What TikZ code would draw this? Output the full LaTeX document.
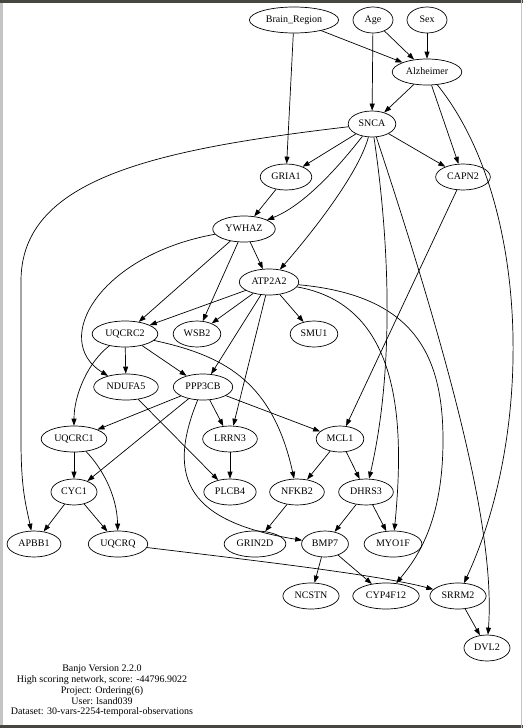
\documentclass[tikz,border=0pt]{standalone}
\usepackage{fontspec}
\setmainfont{Liberation Serif}
\usetikzlibrary{shapes.geometric, arrows.meta, positioning}
\definecolor{winbar}{RGB}{72,70,64}
\definecolor{winside}{RGB}{196,196,196}

\begin{document}
\begin{tikzpicture}[
    x=1pt, y=-1pt,
    gene/.style={ellipse, draw, line width=0.7pt, inner xsep=3.5pt, inner ysep=2pt, text height=7pt, text depth=2pt, minimum width=40pt, minimum height=26pt, font=\fontsize{10}{12}\selectfont},
    line/.style={draw, line width=0.7pt, -{Triangle[length=7pt, width=5pt]}}
]

\useasboundingbox (0,0) rectangle (523,728);
\fill [white] (0,0) rectangle (523,728);
\fill [winside] (0,0) rectangle (3,728);
\fill [winbar] (0,0) rectangle (523,3);
\fill [winbar] (0,725) rectangle (523,728);
\draw [winside] (521.5,0) -- (521.5,728);

\node [gene] (brain) at (294,20) {Brain\_Region};
\node [gene] (age) at (373,20) {Age};
\node [gene] (sex) at (427,20) {Sex};
\node [gene] (alz) at (427,72) {Alzheimer};
\node [gene] (snca) at (372,124) {SNCA};
\node [gene] (gria1) at (286,177) {GRIA1};
\node [gene] (capn2) at (463,177) {CAPN2};
\node [gene] (ywhaz) at (244,229) {YWHAZ};
\node [gene] (atp2a2) at (269,282) {ATP2A2};
\node [gene] (uqcrc2) at (125,334) {UQCRC2};
\node [gene] (wsb2) at (197,334) {WSB2};
\node [gene] (smu1) at (314,334) {SMU1};
\node [gene] (ndufa5) at (126,387) {NDUFA5};
\node [gene] (ppp3cb) at (203,387) {PPP3CB};
\node [gene] (uqcrc1) at (74,439) {UQCRC1};
\node [gene] (lrrn3) at (230,439) {LRRN3};
\node [gene] (mcl1) at (340,439) {MCL1};
\node [gene] (cyc1) at (74,492) {CYC1};
\node [gene] (plcb4) at (230,492) {PLCB4};
\node [gene] (nfkb2) at (297,492) {NFKB2};
\node [gene] (dhrs3) at (366,492) {DHRS3};
\node [gene] (apbb1) at (34,544) {APBB1};
\node [gene] (uqcrq) at (118,544) {UQCRQ};
\node [gene] (grin2d) at (255,544) {GRIN2D};
\node [gene] (bmp7) at (325,544) {BMP7};
\node [gene] (myo1f) at (393,544) {MYO1F};
\node [gene] (ncstn) at (311,596) {NCSTN};
\node [gene] (cyp4f12) at (386,596) {CYP4F12};
\node [gene] (srrm2) at (458,596) {SRRM2};
\node [gene] (dvl2) at (487,648) {DVL2};

\node [align=center, font=\fontsize{10}{10.8}\selectfont] (info) at (102,691) {Banjo Version 2.2.0\\High scoring network, score: -44796.9022\\Project: Ordering(6)\\User: lsand039\\Dataset: 30-vars-2254-temporal-observations};

\path [line] (brain) -- (gria1);
\path [line] (brain) -- (alz);
\path [line] (age) -- (alz);
\path [line] (age) -- (snca);
\path [line] (sex) -- (alz);
\path [line] (alz) -- (snca);
\path [line] (alz) -- (capn2);
\path [line] (alz) .. controls (530,200) and (535,430) .. (srrm2);

\path [line] (snca) -- (gria1);
\path [line] (snca) -- (capn2);
\path [line] (snca) .. controls (340,165) and (305,205) .. (ywhaz);
\path [line] (snca) .. controls (358,175) and (310,235) .. (atp2a2);
\path [line] (snca) .. controls (392,260) and (392,380) .. (dhrs3);
\path [line] (snca) .. controls (460,390) and (495,540) .. (dvl2);
\path [line] (snca) .. controls (150,150) and (22,180) .. (21,280) -- (21,440) .. controls (21,490) and (26,505) .. (apbb1);

\path [line] (gria1) -- (ywhaz);
\path [line] (capn2) -- (mcl1);

\path [line] (ywhaz) -- (atp2a2);
\path [line] (ywhaz) -- (uqcrc2);
\path [line] (ywhaz) -- (wsb2);
\path [line] (ywhaz) .. controls (100,255) and (50,340) .. (ndufa5);

\path [line] (atp2a2) -- (uqcrc2);
\path [line] (atp2a2) -- (wsb2);
\path [line] (atp2a2) -- (smu1);
\path [line] (atp2a2) -- (ppp3cb);
\path [line] (atp2a2) -- (lrrn3);
\path [line] (atp2a2) .. controls (400,305) and (405,420) .. (myo1f);
\path [line] (atp2a2) .. controls (410,295) and (443,350) .. (443,440) .. controls (443,525) and (415,560) .. (cyp4f12);

\path [line] (uqcrc2) -- (ndufa5);
\path [line] (uqcrc2) -- (ppp3cb);
\path [line] (uqcrc2) .. controls (88,362) and (74,395) .. (uqcrc1);
\path [line] (uqcrc2) .. controls (220,355) and (272,378) .. (nfkb2);

\path [line] (ndufa5) -- (plcb4);
\path [line] (ppp3cb) -- (uqcrc1);
\path [line] (ppp3cb) -- (cyc1);
\path [line] (ppp3cb) -- (lrrn3);
\path [line] (ppp3cb) -- (mcl1);
\path [line] (ppp3cb) .. controls (165,480) and (190,522) .. (bmp7);

\path [line] (lrrn3) -- (plcb4);
\path [line] (mcl1) -- (nfkb2);
\path [line] (mcl1) -- (dhrs3);
\path [line] (uqcrc1) -- (cyc1);
\path [line] (uqcrc1) .. controls (102,468) and (117,495) .. (uqcrq);
\path [line] (cyc1) -- (apbb1);
\path [line] (cyc1) -- (uqcrq);

\path [line] (nfkb2) -- (grin2d);
\path [line] (dhrs3) -- (bmp7);
\path [line] (dhrs3) -- (myo1f);
\path [line] (bmp7) -- (ncstn);
\path [line] (bmp7) -- (cyp4f12);
\path [line] (uqcrq) .. controls (250,560) and (380,575) .. (srrm2);
\path [line] (srrm2) -- (dvl2);

\end{tikzpicture}
\end{document}
